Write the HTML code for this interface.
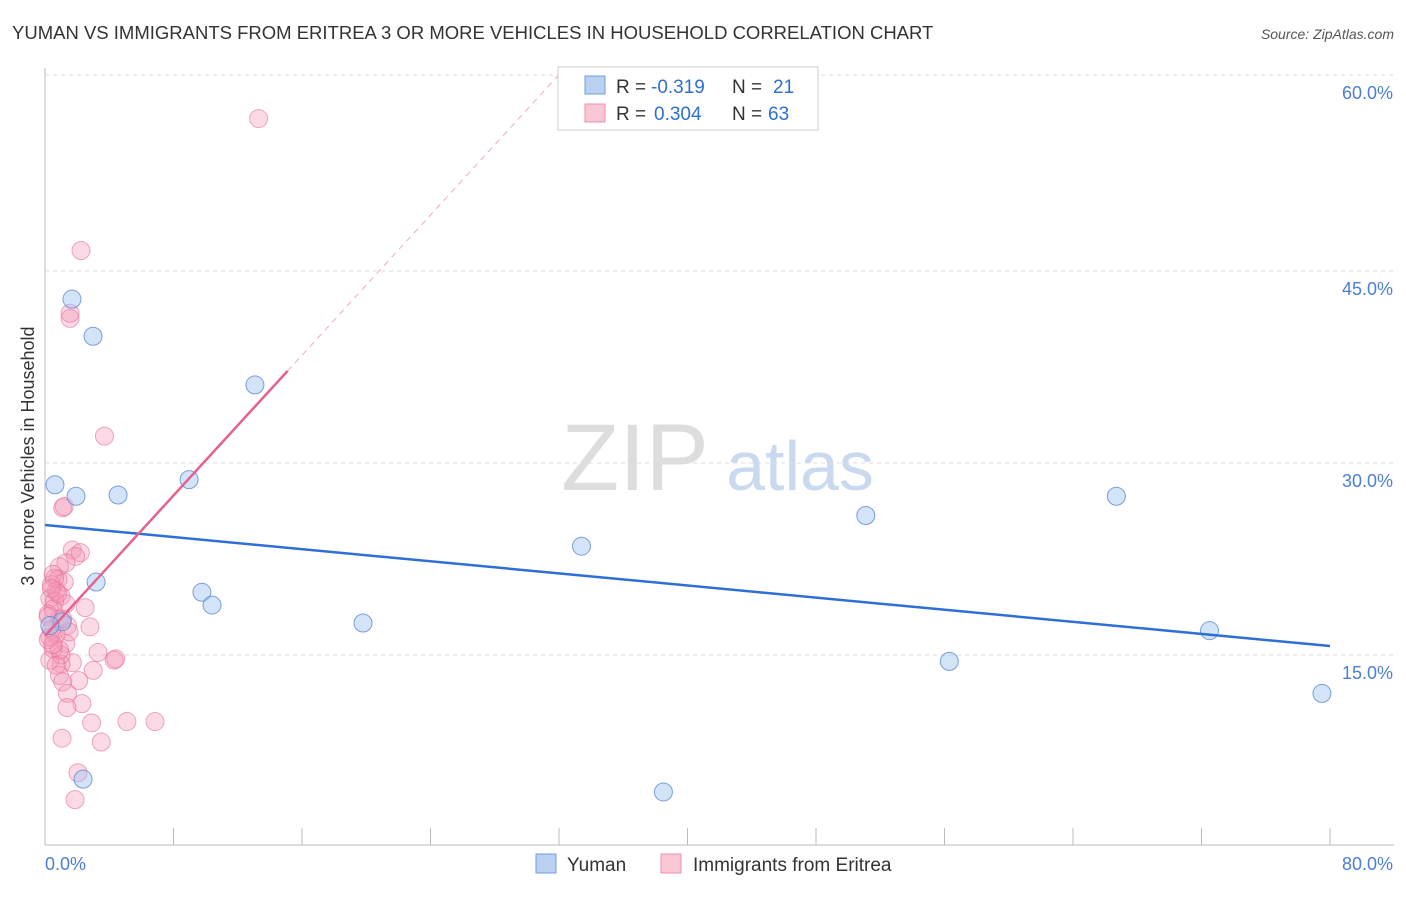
<!DOCTYPE html>
<html><head><meta charset="utf-8"><style>
body{margin:0;background:#fff;font-family:"Liberation Sans",sans-serif}
svg text{font-family:"Liberation Sans",sans-serif}
</style></head><body>
<svg id="c" width="1406" height="892">
<text x="12" y="39" font-size="18.5" fill="#333">YUMAN VS IMMIGRANTS FROM ERITREA 3 OR MORE VEHICLES IN HOUSEHOLD CORRELATION CHART</text>
<text x="1394" y="39" font-size="14" fill="#555" text-anchor="end" font-style="italic">Source: ZipAtlas.com</text>
<text x="635" y="490" font-size="95" fill="#ddd" font-family="Liberation Serif" text-anchor="middle">ZIP</text>
<text x="800" y="490" font-size="70" fill="#c9d9ef" text-anchor="middle">atlas</text>
<text transform="translate(34,456) rotate(-90)" font-size="18" fill="#333" text-anchor="middle">3 or more Vehicles in Household</text>
<g id="grid"></g><g id="marks"></g>
<g>
<rect x="558" y="67" width="260" height="63" fill="#fff" stroke="#ccc"/>
<rect x="585" y="76" width="20" height="18" fill="#b9d0f0" stroke="#6d9de0"/>
<rect x="585" y="104" width="20" height="18" fill="#f9c6d4" stroke="#ee8fab"/>
<text x="616" y="93" font-size="19" fill="#333">R =</text>
<text x="651" y="93" font-size="19" fill="#2f6fd0">-0.319</text>
<text x="732" y="93" font-size="19" fill="#333">N =</text>
<text x="773" y="93" font-size="19" fill="#2f6fd0">21</text>
<text x="616" y="120" font-size="19" fill="#333">R =</text>
<text x="654" y="120" font-size="19" fill="#2f6fd0">0.304</text>
<text x="732" y="120" font-size="19" fill="#333">N =</text>
<text x="768" y="120" font-size="19" fill="#2f6fd0">63</text>
</g>
<g>
<rect x="536" y="854" width="20" height="19" fill="#b9d0f0" stroke="#6d9de0"/>
<text x="567" y="871" font-size="19" fill="#333">Yuman</text>
<rect x="661" y="854" width="20" height="19" fill="#f9c6d4" stroke="#ee8fab"/>
<text x="693" y="871" font-size="19" fill="#333">Immigrants from Eritrea</text>
</g>
</svg>
<script>
const yTicks=[15,30,45,60];
const xTickLabels=["0.0%","80.0%"];
const yumanX=[1.68,2.99,13.07,0.62,1.93,4.55,8.97,3.18,9.77,10.4,1.06,19.8,33.4,38.5,51.1,56.3,66.7,72.5,79.5,2.37,0.3];
const yumanY=[42.8,39.9,36.1,28.3,27.4,27.5,28.7,20.7,19.9,18.9,17.6,17.5,23.5,4.3,25.9,14.5,27.4,16.9,12.0,5.3,17.3];
const eritreaX=[13.3,2.24,1.56,1.56,3.7,1.1,1.2,1.7,2.2,1.9,1.3,0.9,0.5,0.8,1.2,0.4,0.7,1.0,0.3,0.6,1.3,0.5,0.2,0.9,2.5,2.8,1.4,1.3,3.3,4.3,4.4,3.0,1.7,1.0,0.9,2.1,1.1,1.4,2.3,1.37,2.9,5.1,6.85,1.06,3.5,2.05,1.87,0.4,0.7,0.2,0.5,1.0,0.3,0.8,0.6,0.4,0.2,1.5,0.9,0.3,0.7,1.1,0.5];
const eritreaY=[56.9,46.6,41.3,41.7,32.1,26.5,26.6,23.2,23.0,22.7,22.2,21.9,21.3,20.9,20.7,20.5,20.0,19.6,19.4,19.2,19.0,18.6,18.2,17.8,18.7,17.2,17.3,15.9,15.2,14.6,14.7,13.8,14.4,14.3,13.4,13.0,12.9,12.0,11.2,10.9,9.7,9.8,9.8,8.5,8.2,5.8,3.7,17.0,16.6,16.2,15.5,15.0,14.6,19.8,21.0,20.2,18.0,16.8,15.4,16.4,14.2,17.8,15.8];
const yumanLine=[25.16,15.7];
const eritreaLine=[16.5,1.37];
const X=v=>45+v*1285/80, Y=v=>847-v*12.8;
const NS="http://www.w3.org/2000/svg";
function mk(t,a,p){const e=document.createElementNS(NS,t);for(const k in a)e.setAttribute(k,a[k]);p.appendChild(e);return e;}
const g=document.getElementById('grid'),m=document.getElementById('marks');
let ax=mk('line',{x1:45,y1:68,x2:45,y2:845,stroke:'#bbb'},g);


let bx=mk('line',{x1:45,y1:845,x2:1394,y2:845,stroke:'#bbb'},g);


for(let i=1;i<=10;i++){const x=X(i*8);const t=mk('line',{x1:x,y1:828,x2:x,y2:845,stroke:'#bbb'},g);

}
yTicks.forEach(v=>{const y=Y(v)+(v==60?-4:0);
const l=mk('line',{x1:45,y1:y,x2:1394,y2:y,stroke:'#ddd','stroke-dasharray':'4,4'},g);


const t=mk('text',{x:1393,y:y+24,'font-size':18,fill:'#4a7fd4','text-anchor':'end'},g);t.textContent=v.toFixed(1)+'%';

});
xTickLabels.forEach((s,i)=>{const t=mk('text',{x:i?1393:45,y:870,'font-size':18,fill:'#4a7fd4','text-anchor':i?'end':'start'},g);t.textContent=s;

});
eritreaX.forEach((x,i)=>{const c=mk('circle',{cx:X(x),cy:Y(eritreaY[i]),r:9,fill:'rgba(244,150,180,0.35)',stroke:'rgba(232,110,150,0.6)'},m);

});
yumanX.forEach((x,i)=>{const c=mk('circle',{cx:X(x),cy:Y(yumanY[i]),r:9,fill:'rgba(160,195,240,0.45)',stroke:'rgba(80,130,210,0.75)'},m);

});
let bl=mk('line',{x1:X(0),y1:Y(yumanLine[0]),x2:X(80),y2:Y(yumanLine[1]),stroke:'#2d6fd6','stroke-width':2.5},m);


const pe=v=>eritreaLine[0]+eritreaLine[1]*v;
let pl=mk('line',{x1:X(0),y1:Y(pe(0)),x2:X(15.1),y2:Y(pe(15.1)),stroke:'#e4628e','stroke-width':2.5},m);


const xe=(61-eritreaLine[0])/eritreaLine[1];
let pd=mk('line',{x1:X(15.1),y1:Y(pe(15.1)),x2:X(xe),y2:Y(61),stroke:'#eeaabf','stroke-width':1,'stroke-dasharray':'6,5'},m);


</script>
</body></html>
